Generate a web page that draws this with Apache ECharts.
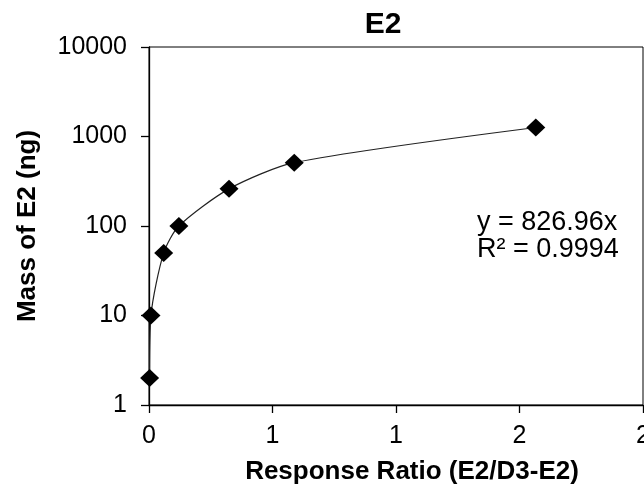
<!DOCTYPE html>
<html>
<head>
<meta charset="utf-8">
<script src="https://cdn.jsdelivr.net/npm/echarts@6/dist/echarts.min.js"></script>
<style>
html,body{margin:0;padding:0;background:#fff;}
#chart{width:644px;height:491px;}
</style>
</head>
<body>
<div id="chart"></div>
<script>
// Data
var responseRatio = [0.0025, 0.008, 0.0595, 0.121, 0.324, 0.588, 1.566];
var massE2 = [2, 10, 50, 100, 260, 510, 1260];
var yTicks = [1, 10, 100, 1000, 10000];
var chartTitle = 'E2';
var xTitle = 'Response Ratio (E2/D3-E2)';
var yTitle = 'Mass of E2 (ng)';
var equationLines = ['y = 826.96x', 'R\u00b2 = 0.9994'];

var points = responseRatio.map(function (x, i) { return [x, massE2[i]]; });
var FONT = '"Liberation Sans", Arial, sans-serif';

var chart = echarts.init(document.getElementById('chart'));
chart.setOption({
  animation: false,
  backgroundColor: '#fff',
  title: {
    text: chartTitle,
    left: 383,
    top: 10,
    padding: 0,
    textAlign: 'center',
    textStyle: { fontFamily: FONT, fontWeight: 'bold', fontSize: 30, color: '#000' }
  },
  grid: {
    left: 149, right: 1, top: 47, bottom: 86,
    containLabel: false,
    outerBoundsMode: 'none',
    show: true, borderColor: '#000', borderWidth: 1, backgroundColor: '#fff'
  },
  xAxis: {
    type: 'value',
    min: 0, max: 2, interval: 0.5,
    name: xTitle,
    nameLocation: 'middle',
    nameGap: 54,
    nameTextStyle: { fontFamily: FONT, fontWeight: 'bold', fontSize: 26, color: '#000', padding: [0, 0, 0, 32] },
    axisLine: { show: true, lineStyle: { color: '#000', width: 1.3 } },
    axisTick: { show: true, inside: false, length: 8, lineStyle: { color: '#000', width: 1.3 } },
    axisLabel: {
      fontFamily: FONT, fontSize: 25, color: '#000', margin: 19,
      hideOverlap: false,
      formatter: function (v) { return String(Math.round(v)); }
    },
    splitLine: { show: false }
  },
  yAxis: {
    type: 'log',
    logBase: 10,
    min: yTicks[0], max: yTicks[yTicks.length - 1],
    name: yTitle,
    nameLocation: 'middle',
    nameGap: 108,
    nameTextStyle: { fontFamily: FONT, fontWeight: 'bold', fontSize: 26, color: '#000' },
    axisLine: { show: true, lineStyle: { color: '#000', width: 1.3 } },
    axisTick: { show: true, inside: false, length: 8, lineStyle: { color: '#000', width: 1.3 } },
    minorTick: { show: false },
    axisLabel: {
      fontFamily: FONT, fontSize: 25, color: '#000', margin: 22,
      formatter: function (v) { return String(Math.round(v)); }
    },
    splitLine: { show: false }
  },
  series: [
    {
      type: 'line',
      data: points,
      smooth: 0.25,
      showSymbol: false,
      symbol: 'none',
      lineStyle: { color: '#222', width: 1.2 },
      z: 2
    },
    {
      type: 'scatter',
      data: points,
      symbol: 'diamond',
      symbolSize: [19, 18],
      itemStyle: { color: '#000', opacity: 1 },
      z: 3
    }
  ],
  graphic: [
    {
      type: 'text',
      left: 477,
      top: 209,
      style: {
        text: equationLines.join('\n'),
        font: '27px ' + FONT,
        fill: '#000',
        lineHeight: 27
      }
    }
  ]
});
</script>
</body>
</html>
